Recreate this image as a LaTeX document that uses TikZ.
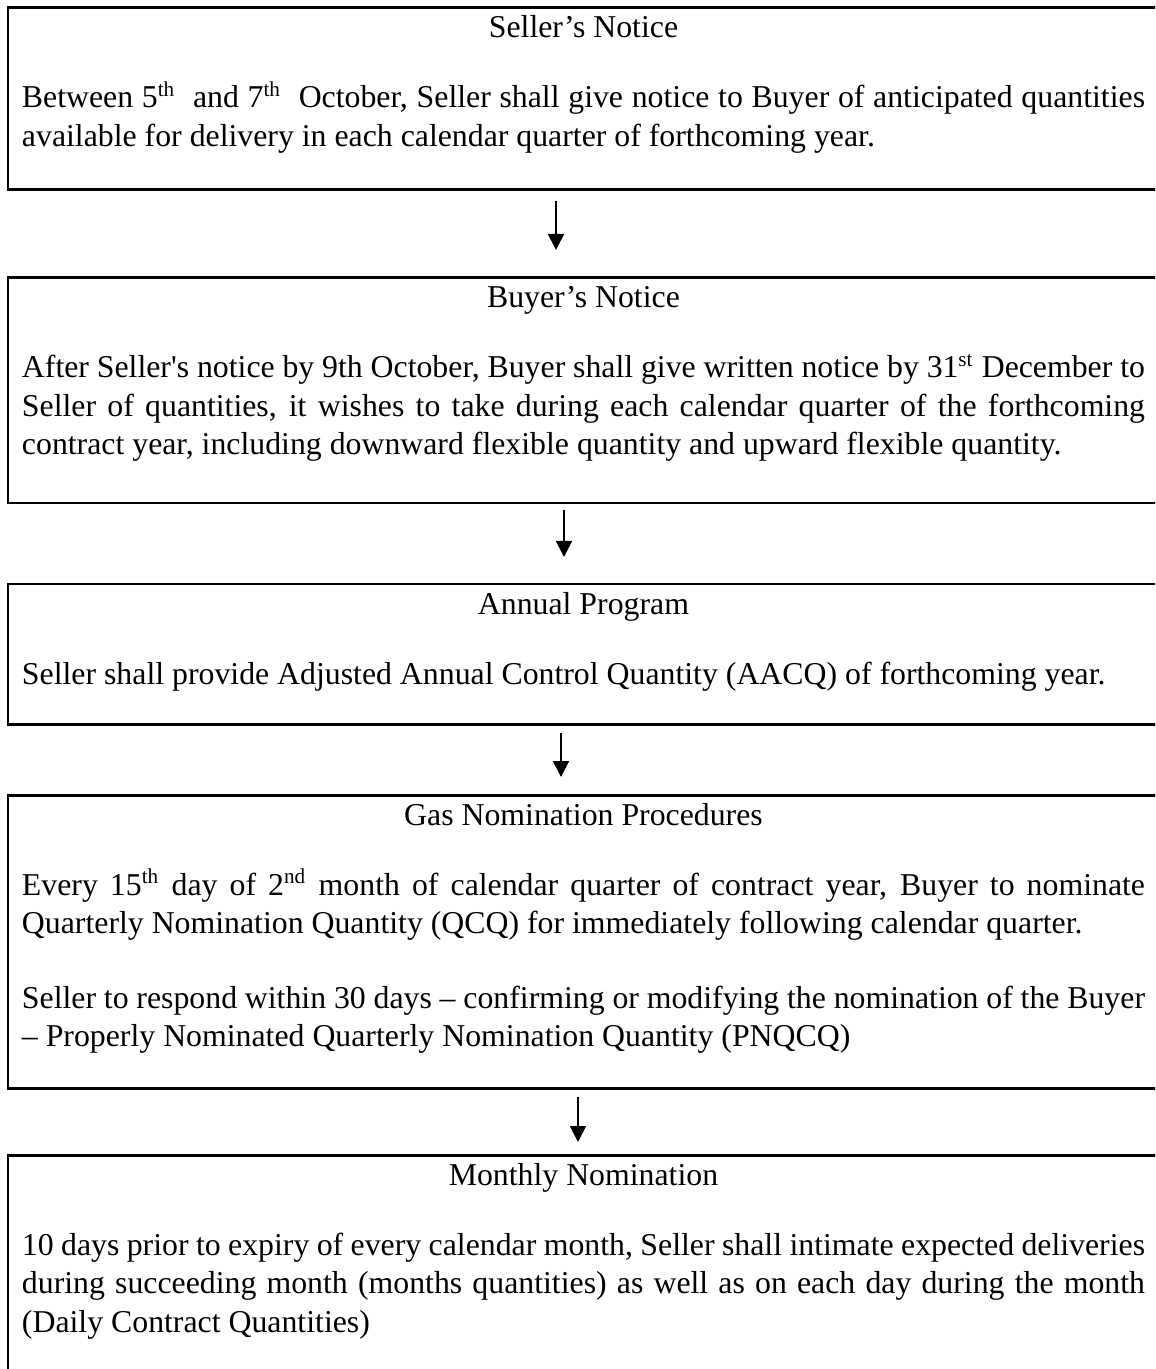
\documentclass[tikz,border=0pt]{standalone}
\usepackage{fontspec}
\setmainfont{Liberation Serif}
\usetikzlibrary{arrows.meta}
\newlength\pxu
\setlength\pxu{0.3774pt}
\hyphenpenalty=10000
\exhyphenpenalty=10000
\hfuzz=20pt
\newcommand{\stagetext}[3]{\parbox[c][#1\pxu][t]{1123\pxu}{{\centering\rule{0pt}{30\pxu}#2\par}\vspace{31.5\pxu}#3}}

\begin{document}
\begin{tikzpicture}[x=0.3774pt, y=-0.3774pt,
    stage/.style={draw, line width=1.13pt, anchor=north west, inner xsep=5.28pt,
      inner ysep=0pt, outer sep=0pt, font=\fontsize{12}{14.53}\selectfont},
    flow/.style={line width=0.64pt, -{Triangle[length=6.04pt, width=6.04pt]}}]
  \path[use as bounding box, clip] (0,0) rectangle (1155,1369);

  \node[stage] (seller) at (8,8) {\stagetext{182}{Seller’s Notice}{%
    Between 5\textsuperscript{th}\ \ and 7\textsuperscript{th}\ \ October, Seller shall give notice to Buyer of anticipated quantities\linebreak
    available for delivery in each calendar quarter of forthcoming year.}};

  \node[stage] (buyer) at (8,278) {\stagetext{225}{Buyer’s Notice}{%
    After Seller\textquotesingle s notice by 9th October, Buyer shall give written notice by 31\textsuperscript{st} December to\linebreak
    Seller of quantities, it wishes to take during each calendar quarter of the forthcoming\linebreak
    contract year, including downward flexible quantity and upward flexible quantity.}};

  \node[stage] (annual) at (8,584) {\stagetext{140}{Annual Program}{%
    Seller shall provide Adjusted Annual Control Quantity (AACQ) of forthcoming year.}};

  \node[stage] (gasnom) at (8,795) {\stagetext{293}{Gas Nomination Procedures}{%
    Every 15\textsuperscript{th} day of 2\textsuperscript{nd} month of calendar quarter of contract year, Buyer to nominate\linebreak
    Quarterly Nomination Quantity (QCQ) for immediately following calendar quarter.\par
    \vspace{36\pxu}%
    Seller to respond within 30 days – confirming or modifying the nomination of the Buyer\linebreak
    – Properly Nominated Quarterly Nomination Quantity (PNQCQ)}};

  \node[stage] (monthly) at (8,1155) {\stagetext{300}{Monthly Nomination}{%
    10 days prior to expiry of every calendar month, Seller shall intimate expected deliveries\linebreak
    during succeeding month (months quantities) as well as on each day during the month\linebreak
    (Daily Contract Quantities)}};

  \draw[flow] ([shift={(-27.5,11)}]seller.south) to ([shift={(-27.5,-28)}]buyer.north);
  \draw[flow] ([shift={(-19.5,7)}]buyer.south) to ([shift={(-19.5,-27)}]annual.north);
  \draw[flow] ([shift={(-22.5,9)}]annual.south) to ([shift={(-22.5,-18)}]gasnom.north);
  \draw[flow] ([shift={(-5.5,9)}]gasnom.south) to ([shift={(-5.5,-13)}]monthly.north);
\end{tikzpicture}
\end{document}
